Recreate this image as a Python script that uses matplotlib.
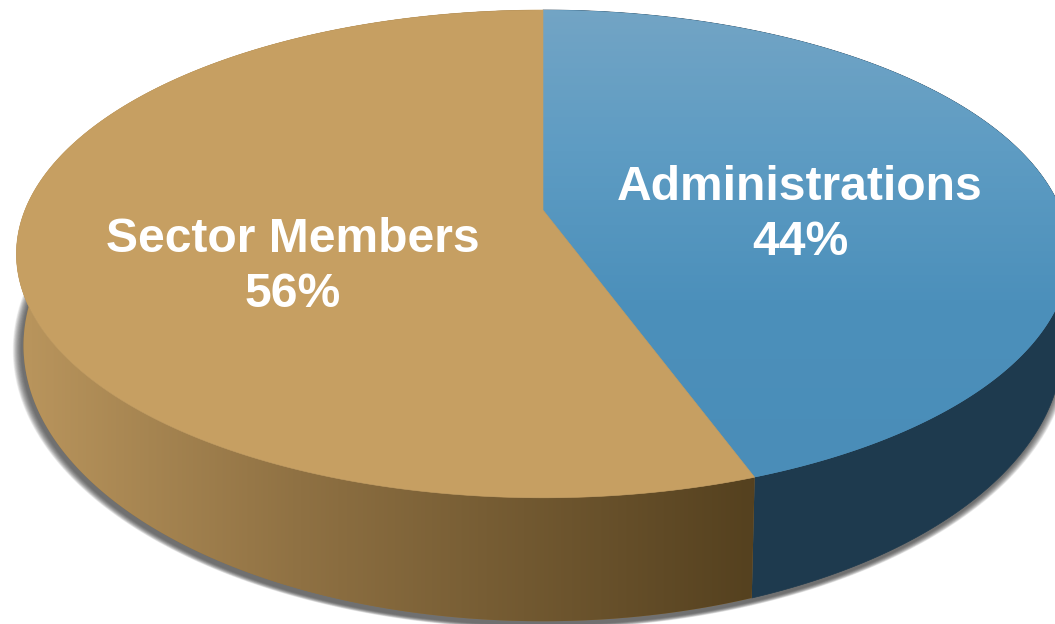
import numpy as np
import matplotlib
matplotlib.use("Agg")
import matplotlib.pyplot as plt
from matplotlib.patches import Polygon
from matplotlib.colors import LinearSegmentedColormap

categories = ["Administrations", "Sector Members"]
shares = [44.49, 55.51]

W, H = 1055, 624
KEEP = 0.18            # perspective strength
TOP = dict(cx=543, apex=210, up=200, down=288, half=518)
LOW = dict(cx=543, apex=296, up=226, down=326, half=511)


def project(theta, g):
    X, Y = np.sin(theta), np.cos(theta)
    b = g["up"] * (1 + KEEP)
    d = 1 + KEEP * Y
    return g["cx"] + X * g["half"] / d, g["apex"] - Y * b / d


def arc(a0, a1, g, n=300):
    t = np.linspace(a0, a1, n)
    return np.column_stack(project(t, g))


fig = plt.figure(figsize=(W / 100, H / 100), dpi=100)
ax = fig.add_axes([0, 0, 1, 1])
ax.axis("off")

# soft drop shadow under the disc
base = arc(0, 2 * np.pi, LOW, 500)
centre = base.mean(axis=0)
layers = 30
for i in range(layers, 0, -1):
    f = i / layers
    s = base.copy()
    s[:, 0] = centre[0] + (s[:, 0] - centre[0]) * (1 + f * 0.017) - 2
    s[:, 1] = centre[1] + (s[:, 1] - centre[1]) * (1 + f * 0.012) + 4
    ax.add_patch(Polygon(s, closed=True, fc="#404040", ec="none", alpha=0.04, zorder=1))

edges = 2 * np.pi * np.cumsum([0] + shares) / sum(shares)


def gradient(poly_patch, stops, vertical, zorder):
    cmap = LinearSegmentedColormap.from_list("g", stops)
    ax.add_patch(poly_patch)
    ramp = np.linspace(0, 1, 512)
    ramp = ramp[:, None] if vertical else ramp[None, :]
    im = ax.imshow(ramp, cmap=cmap, vmin=0, vmax=1, aspect="auto", extent=(0, W, H, 0),
                   interpolation="bilinear", zorder=zorder)
    im.set_clip_path(poly_patch)


# sides
for i, (a0, a1) in enumerate(zip(edges[:-1], edges[1:])):
    side = np.vstack([arc(a0, a1, TOP), arc(a0, a1, LOW)[::-1]])
    if i == 0:
        ax.add_patch(Polygon(side, closed=True, fc="#1e3a4e", ec="#1e3a4e", lw=0.5, zorder=2))
    else:
        stops = [(0, "#bb975c"), (30 / W, "#b8945c"), (300 / W, "#8f7143"),
                 (750 / W, "#55411f"), (1, "#55411f")]
        mid = "#8f7143"
        ax.add_patch(Polygon(side, closed=True, fc=mid, ec="none", zorder=2))
        gradient(Polygon(side, closed=True, fc="none", ec="none", zorder=2), stops, False, 3)

# top faces
apex = np.array([[TOP["cx"], TOP["apex"]]])
for i, (a0, a1) in enumerate(zip(edges[:-1], edges[1:])):
    face = np.vstack([apex, arc(a0, a1, TOP)])
    if i == 0:
        ax.add_patch(Polygon(face, closed=True, fc="#4f92bd", ec="none", zorder=4))
        stops = [(0, "#74a5c5"), (150 / H, "#5e9cc3"), (300 / H, "#4c90bb"),
                 (478 / H, "#4a8db8"), (1, "#4a8db8")]
        gradient(Polygon(face, closed=True, fc="none", ec="none", zorder=4), stops, True, 5)
    else:
        ax.add_patch(Polygon(face, closed=True, fc="#c69f62", ec="#c69f62", lw=0.4, zorder=6))

# labels
label_xy = [(800, 215), (293, 267)]
for name, v, (x, y) in zip(categories, shares, label_xy):
    ax.text(x, y, f"{name}\n{round(v)}%", color="white", ha="center", va="center",
            fontsize=34.6, fontweight="bold", family="Liberation Sans",
            linespacing=1.26, zorder=8)

ax.set_xlim(0, W)
ax.set_ylim(H, 0)
fig.savefig("out.png", dpi=100)
